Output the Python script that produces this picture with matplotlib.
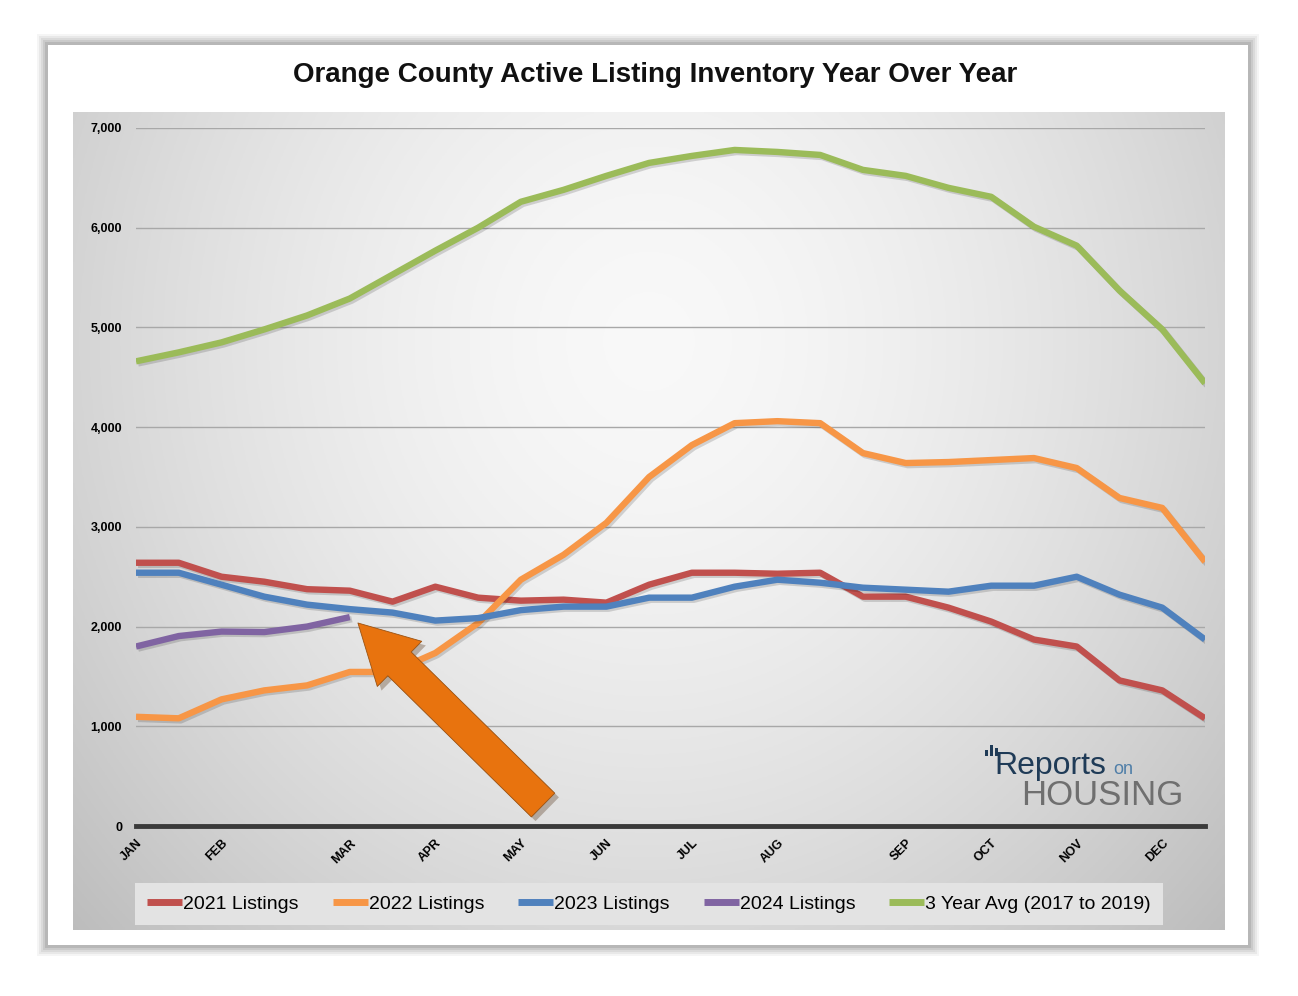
import numpy as np
import matplotlib
matplotlib.use('Agg')
import matplotlib.pyplot as plt
import matplotlib.patches as mpatches
import matplotlib.patheffects as pe

# data (26 points, about every two weeks)
tick_labels = ['JAN', '', 'FEB', '', '', 'MAR', '', 'APR', '', 'MAY', '', 'JUN', '',
               'JUL', '', 'AUG', '', '', 'SEP', '', 'OCT', '', 'NOV', '', 'DEC', '']
listings_2021 = [2640, 2640, 2500, 2450, 2375, 2360, 2250, 2400, 2290, 2260, 2270, 2240, 2420,
                 2540, 2540, 2530, 2540, 2300, 2300, 2190, 2050, 1870, 1800, 1460, 1360, 1080]
listings_2022 = [1095, 1080, 1270, 1360, 1410, 1545, 1545, 1735, 2035, 2470, 2720, 3040, 3500,
                 3820, 4040, 4060, 4040, 3740, 3640, 3650, 3670, 3690, 3590, 3290, 3190, 2650]
listings_2023 = [2540, 2540, 2420, 2300, 2220, 2175, 2140, 2060, 2085, 2165, 2200, 2200, 2290,
                 2290, 2400, 2470, 2440, 2390, 2370, 2350, 2410, 2410, 2500, 2320, 2190, 1870]
listings_2024 = [1800, 1905, 1950, 1945, 2000, 2095]
avg_3yr = [4660, 4750, 4850, 4980, 5120, 5290, 5530, 5770, 6000, 6260, 6380, 6520, 6650,
           6720, 6780, 6760, 6730, 6580, 6520, 6400, 6310, 6010, 5820, 5370, 4980, 4440]

series = [
    ('2021 Listings', listings_2021, '#C0504D'),
    ('2022 Listings', listings_2022, '#F79646'),
    ('2023 Listings', listings_2023, '#4F81BD'),
    ('2024 Listings', listings_2024, '#8064A2'),
    ('3 Year Avg (2017 to 2019)', avg_3yr, '#9BBB59'),
]

plt.rcParams['font.family'] = ['Liberation Sans', 'DejaVu Sans']

W, H = 1298, 996
fig = plt.figure(figsize=(W / 100, H / 100), dpi=100)
fig.patch.set_facecolor('white')

def fx(px):
    return px / W

def fy(py):
    return 1 - py / H

# card with soft shadow
for i, a in enumerate([0.04, 0.05, 0.06, 0.07, 0.09]):
    g = 11 - 2 * i
    fig.patches.append(mpatches.Rectangle((fx(48 - g), fy(945 + g)), fx(1200 + 2 * g), (900 + 2 * g) / H,
                                          transform=fig.transFigure, facecolor='black', alpha=a,
                                          edgecolor='none', zorder=0))
fig.patches.append(mpatches.Rectangle((fx(48), fy(945)), fx(1200), 900 / H, transform=fig.transFigure,
                                      facecolor='white', edgecolor='none', zorder=1))

fig.text(fx(655), fy(75), 'Orange County Active Listing Inventory Year Over Year',
         ha='center', va='center', fontsize=20, fontweight='bold', color='#111111')

# gray gradient panel
bg = fig.add_axes([fx(73), fy(930), fx(1225 - 73), (930 - 112) / H], zorder=2)
yy, xx = np.mgrid[0:1:300j, 0:1:400j]
r = np.sqrt(((xx - 0.5) / 0.62) ** 2 + ((yy - 0.72) / 0.95) ** 2)
shade = 0.975 - 0.2 * np.clip(r, 0, 1.2) ** 1.6
bg.imshow(np.dstack([shade] * 3), aspect='auto', origin='lower', extent=[0, 1, 0, 1])
bg.set_axis_off()

ax = fig.add_axes([fx(136), fy(826), fx(1205 - 136), (826 - 128) / H], zorder=3)
ax.patch.set_alpha(0)
x = np.arange(len(tick_labels))

for label, vals, color in series:
    ax.plot(x[:len(vals)], vals, color=color, lw=4.6, label=label, solid_capstyle='butt',
            path_effects=[pe.SimpleLineShadow(offset=(1.5, -1.5), shadow_color='black', alpha=0.15),
                          pe.Normal()])

ax.set_xlim(0, len(tick_labels) - 1)
ax.set_ylim(0, 7000)
ax.set_yticks(range(0, 7001, 1000))
ax.set_yticklabels([f'{v:,}' for v in range(0, 7001, 1000)], fontsize=9, fontweight='bold')
ax.set_xticks(x)
ax.set_xticklabels(tick_labels, rotation=45, ha='right', va='top', rotation_mode='anchor',
                   fontsize=9, fontweight='bold')
ax.tick_params(length=0, pad=8)
ax.tick_params(axis='y', pad=10)
ax.grid(axis='y', color='#a8a8a8', lw=1)
ax.set_axisbelow(True)
for s in ['top', 'right', 'left']:
    ax.spines[s].set_visible(False)
ax.spines['bottom'].set_color('#3a3a3a')
ax.spines['bottom'].set_linewidth(3.5)

# big arrow pointing at the latest 2024 value
arr = mpatches.FancyArrowPatch((9.52, 210), (5.19, 2036), transform=ax.transData,
                               arrowstyle='simple,head_length=1.75,head_width=1.9,tail_width=1.0',
                               mutation_scale=24, facecolor='#E8730E', edgecolor='#9a5212', lw=0.6,
                               shrinkA=0, shrinkB=0, zorder=6,
                               path_effects=[pe.SimplePatchShadow(offset=(3, -3), alpha=0.3), pe.Normal()])
ax.add_patch(arr)

# logo
fig.text(fx(994), fy(766), 'Reports', fontsize=23, color='#1f3b57', ha='left', va='center', zorder=5)
fig.text(fx(1113), fy(769), 'on', fontsize=13, color='#4f7ea8', ha='left', va='center', zorder=5)
fig.text(fx(1021), fy(795), 'HOUSING', fontsize=25, color='#6f6f6f', ha='left', va='center', zorder=5)
for dx, dy, h in [(985, 750, 6), (990, 745, 11), (995, 748, 8)]:
    fig.patches.append(mpatches.Rectangle((fx(dx), fy(dy + h)), fx(3), h / H, transform=fig.transFigure,
                                          facecolor='#1f3b57', edgecolor='none', zorder=5))

leg = fig.legend(loc='center', bbox_to_anchor=(fx(649), fy(904)), ncol=5, frameon=True,
                 prop={'size': 14},
                 handlelength=1.8, handletextpad=0.05, columnspacing=1.75, borderpad=0.35)
leg.get_frame().set_facecolor('#e3e3e3')
leg.get_frame().set_edgecolor('none')
leg.get_frame().set_alpha(1)
leg.get_frame().set_boxstyle('square')
leg.set_zorder(6)
for h in leg.legend_handles:
    h.set_linewidth(5)
    h.set_path_effects([])

fig.savefig('out.png', dpi=100)
